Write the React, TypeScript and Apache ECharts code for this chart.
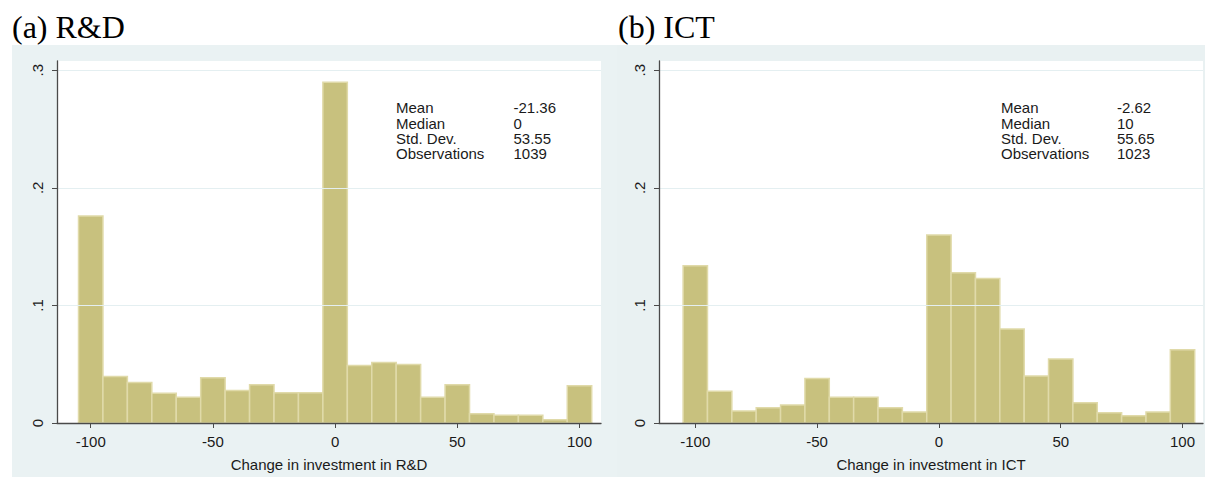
import React, { useEffect, useRef } from "react";
import * as echarts from "echarts";

// ---- data ----
const binCenters = [-100, -90, -80, -70, -60, -50, -40, -30, -20, -10, 0, 10, 20, 30, 40, 50, 60, 70, 80, 90, 100];
const rdShares = [0.176, 0.0396, 0.0345, 0.0252, 0.022, 0.0385, 0.0277, 0.0325, 0.0257, 0.0257, 0.2898, 0.0489, 0.0515, 0.0498, 0.022, 0.0325, 0.0079, 0.0065, 0.0065, 0.0028, 0.0317];
const ictShares = [0.1338, 0.0271, 0.0102, 0.013, 0.0153, 0.0379, 0.0218, 0.0218, 0.013, 0.0093, 0.16, 0.1278, 0.123, 0.08, 0.0399, 0.0545, 0.0172, 0.0087, 0.0062, 0.0093, 0.0622];
const binWidth = 10;
const xTicks = [-100, -50, 0, 50, 100];
const yTicks = [0, 0.1, 0.2, 0.3];
const statLabels = ["Mean", "Median", "Std. Dev.", "Observations"];
const rdStats = ["-21.36", "0", "53.55", "1039"];
const ictStats = ["-2.62", "10", "55.65", "1023"];
const panelTitles = ["(a) R&D", "(b) ICT"];
const axisTitles = ["Change in investment in R&D", "Change in investment in ICT"];

const SANS = "'Liberation Sans', Arial, sans-serif";
const SERIF = "'Liberation Serif', 'Times New Roman', serif";
const AXIS_COLOR = "#4a4a4a";
const TEXT_COLOR = "#1a1a1a";
const BAR_FILL = "#c8c17e";
const BAR_EDGE = "#e0daa9";
const PANEL_BG = "#eaf2f3";

export default function App() {
  const ref = useRef<HTMLDivElement>(null);

  useEffect(() => {
    document.body.style.margin = "0";
    if (!ref.current) return;
    const chart = echarts.init(ref.current, undefined, { renderer: "svg" });

    const grids = [
      { left: 57, top: 61, width: 544, height: 363 },
      { left: 659, top: 61, width: 544, height: 363 },
    ];
    const xRanges = [
      [-113.8, 108.8],
      [-114.9, 108.4],
    ];
    const statsX = [
      [396, 513.5],
      [1001, 1117],
    ];
    const titleX = [12, 618];
    const panels = [
      { x: 12, w: 605, color: PANEL_BG },
      { x: 617, w: 588, color: "#e9f1f2" },
    ];

    const fmtY = (v: number) => (v === 0 ? "0" : String(Number(v.toFixed(1))).replace(/^0/, ""));

    const xAxis = grids.map((g, i) => ({
      type: "value",
      gridIndex: i,
      min: xRanges[i][0],
      max: xRanges[i][1],
      z: 5,
      axisLine: { show: true, onZero: false, lineStyle: { color: AXIS_COLOR, width: 1.3 } },
      axisTick: { show: true, length: 5, customValues: xTicks, lineStyle: { color: AXIS_COLOR, width: 1 } },
      axisLabel: {
        customValues: xTicks,
        fontSize: 15,
        fontFamily: SANS,
        color: TEXT_COLOR,
        margin: 11,
        formatter: (v: number) => String(v),
      },
      splitLine: { show: false },
      name: axisTitles[i],
      nameLocation: "middle",
      nameGap: 34,
      nameTextStyle: { fontSize: 15, fontFamily: SANS, color: TEXT_COLOR },
    }));

    const yAxis = grids.map((g, i) => ({
      type: "value",
      gridIndex: i,
      min: 0,
      max: 0.3079,
      z: 5,
      axisLine: { show: true, onZero: false, lineStyle: { color: AXIS_COLOR, width: 1.3 } },
      axisTick: { show: true, length: 5, customValues: yTicks, lineStyle: { color: AXIS_COLOR, width: 1 } },
      axisLabel: {
        customValues: yTicks,
        rotate: 90,
        fontSize: 15,
        fontFamily: SANS,
        color: TEXT_COLOR,
        margin: 12,
        formatter: fmtY,
      },
      splitLine: { show: true, lineStyle: { color: "#e4eff1", width: 1 } },
    }));

    const makeSeries = (shares: number[], idx: number) => ({
      type: "custom",
      xAxisIndex: idx,
      yAxisIndex: idx,
      data: binCenters.map((c, k) => [c, shares[k]]),
      renderItem: (params: any, api: any) => {
        const x = api.value(0);
        const y = api.value(1);
        const p0 = api.coord([x - binWidth / 2, y]);
        const p1 = api.coord([x + binWidth / 2, 0]);
        return {
          type: "rect",
          shape: { x: p0[0], y: p0[1], width: p1[0] - p0[0], height: p1[1] - p0[1] },
          style: { fill: BAR_FILL, stroke: BAR_EDGE, lineWidth: 1.5 },
        };
      },
    });

    const graphic: any[] = [];
    panels.forEach((p) => {
      graphic.push({
        type: "rect",
        z: -10,
        shape: { x: p.x, y: 45, width: p.w, height: 432 },
        style: { fill: p.color },
        silent: true,
      });
    });
    panelTitles.forEach((t, i) => {
      graphic.push({
        type: "text",
        x: titleX[i],
        y: 27,
        style: { text: t, font: `32px ${SERIF}`, fill: "#000", verticalAlign: "middle" },
      });
    });
    [rdStats, ictStats].forEach((vals, i) => {
      statLabels.forEach((lab, r) => {
        const y = 107.7 + r * 15.3;
        graphic.push({
          type: "text",
          x: statsX[i][0],
          y,
          z: 10,
          style: { text: lab, font: `15px ${SANS}`, fill: TEXT_COLOR, verticalAlign: "middle" },
        });
        graphic.push({
          type: "text",
          x: statsX[i][1],
          y,
          z: 10,
          style: { text: vals[r], font: `15px ${SANS}`, fill: TEXT_COLOR, verticalAlign: "middle" },
        });
      });
    });

    chart.setOption({
      animation: false,
      backgroundColor: "#ffffff",
      grid: grids.map((g) => ({ ...g, show: true, backgroundColor: "#ffffff", borderWidth: 0, containLabel: false })),
      xAxis,
      yAxis,
      series: [makeSeries(rdShares, 0), makeSeries(ictShares, 1)],
      graphic,
    } as any);

    return () => chart.dispose();
  }, []);

  return <div ref={ref} style={{ width: 1205, height: 477 }} />;
}
